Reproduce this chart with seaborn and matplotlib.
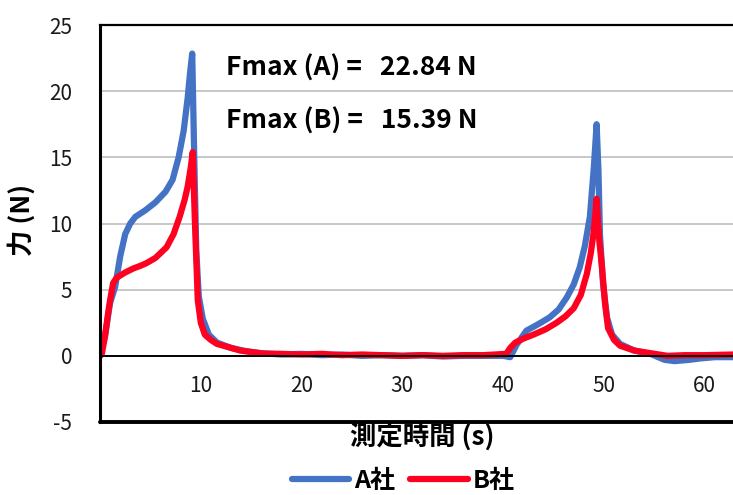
import matplotlib
matplotlib.use("Agg")
import matplotlib.pyplot as plt
import seaborn as sns
import pandas as pd
import numpy as np

# values
time_a = [0, 0.5, 1.0, 1.5, 2.0, 2.5, 3.0, 3.5, 4.5, 5.5, 6.5, 7.2, 7.8, 8.3, 8.7, 8.95,
          9.15, 9.35, 9.55, 9.8, 10.2, 10.8, 11.6, 13, 14.5, 16, 18, 20, 22, 24, 26, 28,
          30, 32, 34, 36, 38, 40, 40.7, 41.3, 42.3, 43.5, 44.6, 45.5, 46.3, 47.0, 47.6,
          48.1, 48.6, 49.0, 49.27, 49.45, 49.6, 49.9, 50.3, 50.8, 51.6, 53, 54.6, 56, 57,
          58.5, 59.5, 61, 62.8]
force_a = [0, 1.5, 4.0, 5.2, 7.5, 9.2, 10.0, 10.5, 11.0, 11.6, 12.4, 13.3, 15.0, 17.0, 19.5,
           21.5, 22.84, 15.0, 8.0, 4.5, 2.8, 1.6, 1.0, 0.6, 0.35, 0.2, 0.1, 0.15, 0.05, 0.1,
           0.0, 0.05, 0.0, 0.05, -0.05, 0.0, 0.0, 0.0, -0.1, 0.8, 1.9, 2.4, 2.9, 3.5, 4.4,
           5.4, 6.7, 8.3, 10.5, 14.3, 17.5, 14.0, 9.2, 5.5, 2.9, 1.6, 0.9, 0.4, 0.15, -0.3,
           -0.4, -0.3, -0.2, -0.1, -0.1]

time_b = [0, 0.17, 0.5, 0.8, 1.0, 1.3, 1.65, 2.5, 3.3, 4.0, 4.6, 5.5, 6.6, 7.3, 7.9, 8.4,
          8.7, 9.0, 9.2, 9.4, 9.7, 10.0, 10.4, 11.0, 11.6, 13.0, 13.9, 16.2, 18, 20, 22, 24,
          26, 28, 30, 32, 34, 36, 38, 40.3, 40.7, 41.2, 42.0, 43.0, 44.2, 45.3, 46.2, 47.0,
          47.7, 48.3, 48.7, 48.95, 49.15, 49.27, 49.5, 49.8, 50.1, 50.4, 51.0, 51.6, 53,
          54.2, 56.3, 58, 60, 62.8]
force_b = [0, 0.1, 1.5, 3.2, 4.2, 5.5, 5.9, 6.3, 6.6, 6.8, 7.0, 7.4, 8.2, 9.2, 10.5, 11.8,
           12.8, 14.2, 15.39, 10.5, 4.2, 2.5, 1.6, 1.2, 0.9, 0.6, 0.4, 0.17, 0.15, 0.1, 0.15,
           0.05, 0.1, 0.05, 0.0, 0.05, 0.0, 0.05, 0.05, 0.15, 0.6, 1.0, 1.3, 1.6, 2.0, 2.5,
           3.0, 3.6, 4.6, 6.2, 7.8, 9.2, 10.8, 11.87, 9.0, 6.7, 4.0, 2.1, 1.2, 0.76, 0.4,
           0.25, 0.0, 0.05, 0.05, 0.1]

series = ["A社", "B社"]
colors = ["#4472C4", "#FF0020"]
x_ticks = [10, 20, 30, 40, 50, 60]
y_ticks = [-5, 0, 5, 10, 15, 20, 25]
notes = ["Fmax (A) =   22.84 N", "Fmax (B) =   15.39 N"]

df = pd.concat([
    pd.DataFrame({"time": time_a, "force": force_a, "company": series[0]}),
    pd.DataFrame({"time": time_b, "force": force_b, "company": series[1]}),
])

sns.set_style("white")
plt.rcParams["font.family"] = ["Noto Sans CJK JP", "DejaVu Sans"]
plt.rcParams["axes.unicode_minus"] = False
plt.rcParams["text.color"] = "black"

fig = plt.figure(figsize=(7.33, 4.95), dpi=100)
ax = fig.add_axes([100 / 733, 73 / 495, 633 / 733, 397 / 495])

for y in [5, 10, 15, 20]:
    ax.axhline(y, color="#BFBFBF", lw=1.2, zorder=0)

sns.lineplot(data=df, x="time", y="force", hue="company", palette=colors,
             linewidth=4.5, sort=False, ax=ax, legend=False,
             solid_capstyle="round", solid_joinstyle="round")

ax.set_xlim(0, 62.8)
ax.set_ylim(-5, 25)
ax.set_xticks(x_ticks)
ax.set_yticks(y_ticks)
ax.tick_params(axis="y", direction="in", length=6, width=1.2, labelsize=15, pad=20,
               colors="black", labelcolor="#1a1a1a")
ax.tick_params(axis="x", direction="out", length=6, width=1.2, labelsize=15, pad=8,
               colors="black", labelcolor="#1a1a1a")

ax.spines["bottom"].set_position(("data", 0))
ax.spines["bottom"].set_linewidth(1.4)
ax.spines["bottom"].set_color("black")
ax.spines["left"].set_linewidth(2.2)
ax.spines["left"].set_color("black")
ax.spines["top"].set_linewidth(1.6)
ax.spines["top"].set_color("black")
ax.spines["right"].set_visible(False)
ax.axhline(-5, color="black", lw=2.8, clip_on=False)

ax.text(12.5, 21.7, notes[0], fontsize=19, fontweight="bold", va="center")
ax.text(12.5, 17.7, notes[1], fontsize=19, fontweight="bold", va="center")

ax.set_xlabel("")
ax.set_ylabel("")
fig.text(422 / 733, 1 - 438 / 495, "測定時間 (s)", fontsize=19, fontweight="bold",
         ha="center", va="center")
fig.text(22 / 733, 1 - 220 / 495, "力 (N)", fontsize=19, fontweight="bold",
         ha="center", va="center", rotation=90)

handles = [plt.Line2D([], [], color=c, lw=4.5, solid_capstyle="round") for c in colors]
fig.legend(handles, series, loc="center", bbox_to_anchor=(403 / 733, 1 - 481 / 495),
           ncol=2, frameon=False, handlelength=2.3, columnspacing=0.6, handletextpad=0.2,
           prop={"size": 18, "weight": "bold"})

fig.savefig("out.png", dpi=100)
